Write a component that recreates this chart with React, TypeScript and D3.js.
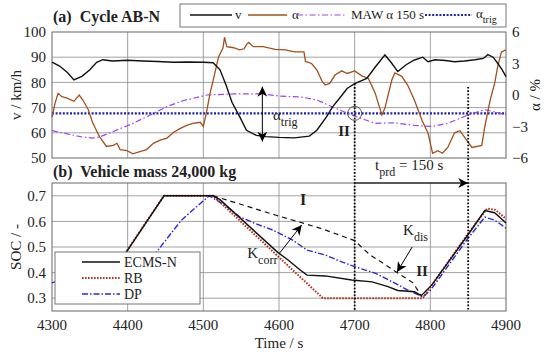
import * as d3 from 'd3';

// ---- data ----
const timeTicks = [4300, 4400, 4500, 4600, 4700, 4800, 4900];
const vTicks = [50, 60, 70, 80, 90, 100];
const alphaTicks = [-6, -3, 0, 3, 6];
const socTicks = [0.3, 0.4, 0.5, 0.6, 0.7];

const vTime = [4300, 4310, 4320, 4329, 4340, 4350, 4359, 4367, 4380, 4400, 4420, 4440, 4460, 4480, 4500, 4513, 4522, 4530, 4538, 4548, 4557, 4570, 4583, 4600, 4620, 4640, 4650, 4663, 4671, 4680, 4690, 4700, 4716, 4727, 4740, 4748, 4757, 4768, 4779, 4790, 4797, 4806, 4820, 4832, 4845, 4859, 4870, 4876, 4883, 4889, 4895, 4900];
const vVal = [88, 86.5, 84, 81, 82.5, 85, 88, 89, 88.5, 88.8, 88.5, 88.3, 88, 88.1, 88, 87.8, 85, 79, 72, 66.4, 61, 59, 58.5, 58.2, 58, 58.7, 61, 66.4, 70.4, 73.7, 77.6, 79.5, 81.6, 86, 90.9, 88, 84.3, 87, 88.9, 90, 88.2, 89, 88.7, 88.2, 88.5, 89, 89.5, 91, 90, 87.6, 85, 82.3];

const alphaTime = [4300, 4304, 4308, 4313, 4320, 4329, 4336, 4341, 4348, 4354, 4363, 4372, 4381, 4386, 4390, 4399, 4407, 4416, 4425, 4434, 4443, 4452, 4460, 4469, 4478, 4486, 4496, 4500, 4504, 4509, 4513, 4520, 4526, 4528, 4531, 4540, 4548, 4554, 4557, 4560, 4566, 4579, 4595, 4608, 4621, 4633, 4635, 4643, 4650, 4657, 4661, 4667, 4674, 4683, 4690, 4700, 4710, 4718, 4727, 4736, 4740, 4749, 4753, 4762, 4770, 4779, 4789, 4797, 4803, 4810, 4816, 4823, 4832, 4839, 4848, 4855, 4868, 4872, 4879, 4885, 4889, 4894, 4900];
const alphaVal = [-2.1, -0.8, 0.16, -0.16, -0.3, -0.6, 0, -0.5, -1.4, -2.7, -4.0, -4.9, -4.8, -4.6, -5.2, -5.3, -5.6, -5.4, -5.2, -4.6, -4.3, -4.1, -3.6, -3.2, -2.9, -2.7, -2.6, -3.0, -1.7, 0.2, 1.4, 3.6, 4.5, 5.5, 4.6, 4.5, 4.3, 4.4, 4.8, 5.0, 4.6, 4.6, 4.35, 4.3, 4.1, 4.1, 3.2, 3.0, 2.4, 1.3, 0.95, 1.1, 1.9, 2.3, 2.05, 2.3, 1.8, 1.6, 0.2, -1.9, -1.25, 1.4, 2.1, 1.8, 0.95, -0.5, -2.4, -3.65, -5.55, -5.3, -5.55, -5.0, -3.6, -3.4, -4.3, -5.0, -4.8, -3.0, -0.5, 1.1, 2.7, 4.1, 4.3];

const mawTime = [4300, 4320, 4340, 4354, 4363, 4380, 4407, 4430, 4452, 4475, 4496, 4504, 4540, 4579, 4600, 4630, 4651, 4674, 4700, 4727, 4753, 4779, 4802, 4823, 4850, 4872, 4885, 4900];
const mawVal = [-3.4, -3.7, -4.0, -4.1, -4.0, -3.5, -2.7, -1.9, -1.1, -0.5, -0.16, 0, 0.1, 0.1, -0.1, -0.2, -0.5, -1.25, -2.0, -2.7, -2.65, -2.9, -3.0, -2.7, -1.9, -1.4, -1.6, -1.9];

const alphaTrig = -1.75;

const ecmsTime = [4357, 4400, 4448, 4513, 4522, 4598, 4612, 4628, 4637, 4661, 4696, 4723, 4744, 4757, 4779, 4788, 4802, 4848, 4872, 4885, 4900];
const ecmsSoc = [0.30, 0.488, 0.70, 0.70, 0.685, 0.48, 0.449, 0.41, 0.39, 0.387, 0.371, 0.364, 0.345, 0.33, 0.325, 0.31, 0.352, 0.54, 0.642, 0.634, 0.594];

const rbTime = [4357, 4400, 4448, 4513, 4658, 4790, 4848, 4875, 4886, 4900];
const rbSoc = [0.30, 0.49, 0.70, 0.70, 0.30, 0.30, 0.545, 0.65, 0.645, 0.61];

const dpTime = [4300, 4320, 4360, 4400, 4438, 4471, 4496, 4508, 4530, 4548, 4570, 4592, 4618, 4637, 4661, 4680, 4700, 4727, 4753, 4770, 4790, 4800, 4848, 4872, 4885, 4900];
const dpSoc = [0.36, 0.38, 0.41, 0.44, 0.48, 0.605, 0.67, 0.70, 0.66, 0.618, 0.59, 0.566, 0.527, 0.488, 0.469, 0.445, 0.423, 0.398, 0.359, 0.332, 0.305, 0.33, 0.527, 0.617, 0.605, 0.574];

const refTime = [4513, 4595, 4654, 4700, 4720, 4777, 4788];
const refSoc = [0.70, 0.625, 0.574, 0.525, 0.47, 0.36, 0.31];

const markTime = [4700, 4850];
const markTopV = [79.5, 78.2];

const FONT = "'Liberation Serif', 'Times New Roman', serif";
const C = {
  v: '#111',
  alpha: '#a0501e',
  maw: '#9a45ee',
  trig: '#1e1eb0',
  rb: '#b0341a',
  dp: '#2a2ad2',
  grid: '#8a8a8a',
  text: '#222',
};

export default function App() {
  const width = 550;
  const height = 356;

  const x = d3.scaleLinear([4300, 4900], [52, 506]);
  const yV = d3.scaleLinear([50, 100], [158, 32]);
  const yA = d3.scaleLinear([-6, 6], [158, 32]);
  const yS = d3.scaleLinear([0.25, 0.75], [311, 183]);

  const path = (ts: number[], vs: number[], y: d3.ScaleLinear<number, number>) =>
    d3.line<number>().x((_, i) => x(ts[i])).y((d) => y(d))(vs) || '';

  const minus = (n: number) => (n < 0 ? '\u2212' + Math.abs(n) : String(n));

  const [x0, x1] = x.range();

  return (
    <svg width={width} height={height} style={{ position: 'absolute', left: 0, top: 0, background: '#fff' }} fontFamily={FONT}>
      <defs>
        <marker id="ah" viewBox="0 0 10 10" refX={10} refY={5} markerWidth={10} markerHeight={10}
          markerUnits="userSpaceOnUse" orient="auto-start-reverse">
          <path d="M0,0 L10,5 L0,10 L3,5 z" fill="#000" />
        </marker>
      </defs>

      {/* ---------- panel (a) ---------- */}
      <g>
        {timeTicks.slice(1, -1).map((t) => (
          <line key={'gva' + t} x1={x(t)} x2={x(t)} y1={yV(100)} y2={yV(50)} stroke={C.grid} strokeWidth={0.8} />
        ))}
        {vTicks.slice(1, -1).map((v) => (
          <line key={'gha' + v} x1={x0} x2={x1} y1={yV(v)} y2={yV(v)} stroke={C.grid} strokeWidth={0.8} />
        ))}
        <rect x={x0} y={yV(100)} width={x1 - x0} height={yV(50) - yV(100)} fill="none" stroke="#666" strokeWidth={1} />

        <line x1={x0} x2={x1} y1={yA(alphaTrig)} y2={yA(alphaTrig)} stroke={C.trig} strokeWidth={2.4} strokeDasharray="2,1.6" />
        <path d={path(mawTime, mawVal, yA)} fill="none" stroke={C.maw} strokeWidth={1.2} strokeDasharray="6,2.5,1.5,2.5" />
        <path d={path(alphaTime, alphaVal, yA)} fill="none" stroke={C.alpha} strokeWidth={1.3} />
        <path d={path(vTime, vVal, yV)} fill="none" stroke={C.v} strokeWidth={1.4} />

        {vTicks.map((v) => (
          <text key={'tv' + v} x={46} y={yV(v)} dy="0.35em" textAnchor="end" fontSize={15} fill={C.text}>{v}</text>
        ))}
        {alphaTicks.map((a) => (
          <text key={'ta' + a} x={512} y={yA(a)} dy="0.35em" fontSize={15} fill={C.text}>{minus(a)}</text>
        ))}
        <text transform={`translate(21,95) rotate(-90)`} textAnchor="middle" fontSize={15} fill={C.text}>v / km/h</text>
        <text transform={`translate(540,95) rotate(-90)`} textAnchor="middle" fontSize={15} fill={C.text}>α / %</text>
        <text x={53} y={22} fontSize={16} fontWeight="bold" fill={C.text} style={{ whiteSpace: 'pre' }}>(a)  Cycle AB-N</text>

        {/* alpha_trig arrow and circle */}
        <line x1={x(4578)} x2={x(4578)} y1={yV(78.3)} y2={yV(56.5)} stroke="#000" strokeWidth={1}
          markerStart="url(#ah)" markerEnd="url(#ah)" />
        <text x={x(4592)} y={yV(65.1)} fontSize={15} fill={C.text}>α<tspan dy={6} fontSize={12}>trig</tspan></text>
        <circle cx={x(4700)} cy={yA(alphaTrig)} r={7} fill="none" stroke="#444" strokeWidth={0.9} />
        <text x={x(4686)} y={yV(58.7)} textAnchor="middle" fontSize={15} fontWeight="bold" fill={C.text}>II</text>
      </g>

      {/* legend (a) */}
      <g fontSize={13} fill={C.text}>
        <rect x={180} y={4} width={326} height={23} fill="#fff" stroke="#777" strokeWidth={1} />
        <line x1={190} x2={232} y1={15} y2={15} stroke={C.v} strokeWidth={1.4} />
        <text x={235} y={19}>v</text>
        <line x1={248} x2={287} y1={15} y2={15} stroke={C.alpha} strokeWidth={1.3} />
        <text x={292} y={19}>α</text>
        <line x1={297} x2={347} y1={15} y2={15} stroke={C.maw} strokeWidth={1.2} strokeDasharray="6,2.5,1.5,2.5" />
        <text x={351} y={19}>MAW α 150 s</text>
        <line x1={425} x2={472} y1={15} y2={15} stroke={C.trig} strokeWidth={2.2} strokeDasharray="2,1.6" />
        <text x={476} y={18}>α<tspan dy={5} fontSize={10}>trig</tspan></text>
      </g>

      {/* ---------- panel (b) ---------- */}
      <g>
        {timeTicks.slice(1, -1).map((t) => (
          <line key={'gvb' + t} x1={x(t)} x2={x(t)} y1={yS(0.75)} y2={yS(0.25)} stroke={C.grid} strokeWidth={0.8} />
        ))}
        {socTicks.map((s) => (
          <line key={'ghb' + s} x1={x0} x2={x1} y1={yS(s)} y2={yS(s)} stroke={C.grid} strokeWidth={0.8} />
        ))}
        <rect x={x0} y={yS(0.75)} width={x1 - x0} height={yS(0.25) - yS(0.75)} fill="none" stroke="#666" strokeWidth={1} />

        <path d={path(refTime, refSoc, yS)} fill="none" stroke="#111" strokeWidth={1.2} strokeDasharray="5,4" />
        <path d={path(dpTime, dpSoc, yS)} fill="none" stroke={C.dp} strokeWidth={1.4} strokeDasharray="6,2,1.5,2" />
        <path d={path(rbTime, rbSoc, yS)} fill="none" stroke={C.rb} strokeWidth={2} strokeDasharray="1.6,1.4" />
        <path d={path(ecmsTime, ecmsSoc, yS)} fill="none" stroke="#111" strokeWidth={1.4} />

        {socTicks.map((s) => (
          <text key={'ts' + s} x={46} y={yS(s)} dy="0.35em" textAnchor="end" fontSize={15} fill={C.text}>{s.toFixed(1)}</text>
        ))}
        {timeTicks.map((t) => (
          <text key={'tt' + t} x={x(t)} y={330} textAnchor="middle" fontSize={15} fill={C.text}>{t}</text>
        ))}
        <text transform={`translate(21,247) rotate(-90)`} textAnchor="middle" fontSize={15} fill={C.text}>SOC / -</text>
        <text x={279} y={348} textAnchor="middle" fontSize={15} fill={C.text}>Time / s</text>
        <text x={53} y={177} fontSize={16} fontWeight="bold" fill={C.text} style={{ whiteSpace: 'pre' }}>(b)  Vehicle mass 24,000 kg</text>

        {/* annotations */}
        <text x={x(4632)} y={yS(0.664)} textAnchor="middle" fontSize={16} fontWeight="bold" fill={C.text}>I</text>
        <text x={x(4789)} y={yS(0.387)} textAnchor="middle" fontSize={15} fontWeight="bold" fill={C.text}>II</text>
        <line x1={x(4601)} y1={yS(0.477)} x2={x(4630)} y2={yS(0.586)} stroke="#000" strokeWidth={1} markerEnd="url(#ah)" />
        <text x={x(4558)} y={yS(0.457)} fontSize={15} fill={C.text}>K<tspan dy={6} fontSize={12}>corr</tspan></text>
        <line x1={x(4776)} y1={yS(0.50)} x2={x(4756)} y2={yS(0.402)} stroke="#000" strokeWidth={1} markerEnd="url(#ah)" />
        <text x={x(4764)} y={yS(0.547)} fontSize={15} fill={C.text}>K<tspan dy={6} fontSize={12}>dis</tspan></text>
        <line x1={x(4700)} x2={x(4850)} y1={yS(0.75)} y2={yS(0.75)} stroke="#000" strokeWidth={1.2} markerEnd="url(#ah)" />
        <text x={x(4727)} y={yS(0.8)} fontSize={15} fill={C.text}>t<tspan dy={6} fontSize={12}>prd</tspan><tspan dy={-6}> = 150 s</tspan></text>
      </g>

      {/* vertical dotted markers spanning both panels */}
      {markTime.map((t, i) => (
        <line key={'mk' + t} x1={x(t)} x2={x(t)} y1={yV(markTopV[i])} y2={yS(0.25)} stroke="#000" strokeWidth={1.8} strokeDasharray="1.6,1.8" />
      ))}

      {/* legend (b) */}
      <g fontSize={14} fill={C.text}>
        <rect x={55} y={252} width={145} height={52} fill="#fff" stroke="#777" strokeWidth={1} />
        <line x1={82} x2={120} y1={262} y2={262} stroke="#111" strokeWidth={1.4} />
        <text x={124} y={267}>ECMS-N</text>
        <line x1={82} x2={120} y1={278} y2={278} stroke={C.rb} strokeWidth={2} strokeDasharray="1.6,1.4" />
        <text x={124} y={283}>RB</text>
        <line x1={82} x2={120} y1={294} y2={294} stroke={C.dp} strokeWidth={1.4} strokeDasharray="6,2,1.5,2" />
        <text x={124} y={299}>DP</text>
      </g>
    </svg>
  );
}
